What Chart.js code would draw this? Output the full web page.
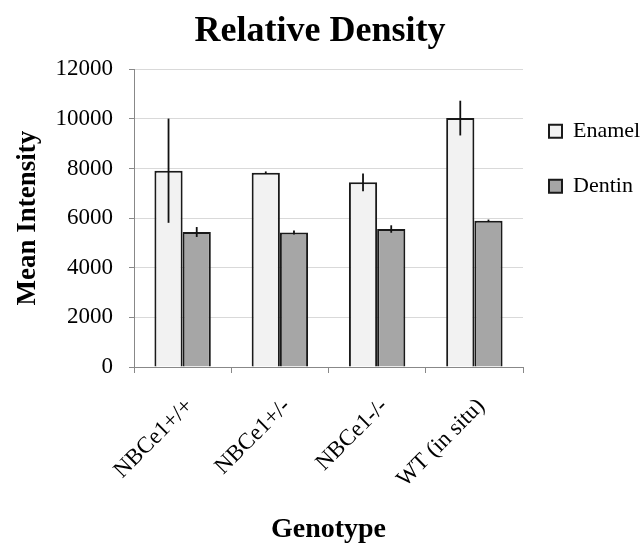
<!DOCTYPE html>
<html>
<head>
<meta charset="utf-8">
<script src="https://cdn.jsdelivr.net/npm/chart.js@4/dist/chart.umd.min.js"></script>
<style>
    html, body { margin: 0; padding: 0; background: #fff; }
</style>
</head>
<body>
<canvas id="densityChart" width="640" height="545"></canvas>
<script>
const genotypes = ['NBCe1+/+', 'NBCe1+/-', 'NBCe1-/-', 'WT (in situ)'];
const enamel = [7910, 7830, 7440, 10030];
const enamelErr = [2100, 50, 360, 700];
const dentin = [5440, 5420, 5560, 5890];
const dentinErr = [200, 80, 150, 50];
const yTicks = [0, 2000, 4000, 6000, 8000, 10000, 12000];

const serif = "'Liberation Serif', 'DejaVu Serif', serif";

// error bars, no caps
const errorBars = {
    id: 'errorBars',
    afterDatasetsDraw(chart) {
        const ctx = chart.ctx;
        const y = chart.scales.y;
        const errs = [enamelErr, dentinErr];
        ctx.save();
        ctx.strokeStyle = '#111';
        ctx.lineWidth = 1.8;
        chart.data.datasets.forEach(function(ds, i) {
            const meta = chart.getDatasetMeta(i);
            meta.data.forEach(function(bar, j) {
                const v = ds.data[j];
                ctx.beginPath();
                ctx.moveTo(bar.x, y.getPixelForValue(v + errs[i][j]));
                ctx.lineTo(bar.x, y.getPixelForValue(v - errs[i][j]));
                ctx.stroke();
            });
        });
        ctx.restore();
    }
};

// nudge legend a bit to the left (right edge kept so text is not clipped)
const legendNudge = {
    id: 'legendNudge',
    afterLayout(chart) {
        chart.legend.left -= 7;
    }
};

const data = {
    labels: genotypes,
    datasets: [{
        label: 'Enamel',
        data: enamel,
        backgroundColor: '#f2f2f2',
        borderColor: '#1a1a1a',
        borderWidth: 2,
        categoryPercentage: 0.58,
        barPercentage: 1.0
    }, {
        label: 'Dentin',
        data: dentin,
        backgroundColor: '#a6a6a6',
        borderColor: '#1a1a1a',
        borderWidth: 2,
        categoryPercentage: 0.58,
        barPercentage: 1.0
    }]
};

const config = {
    type: 'bar',
    data: data,
    plugins: [errorBars, legendNudge],
    options: {
        responsive: false,
        animation: false,
        layout: { padding: 0 },
        plugins: {
            title: {
                display: true,
                text: 'Relative Density',
                color: '#000',
                font: { family: serif, size: 36, weight: 'bold' },
                padding: { top: 10, bottom: 16 }
            },
            legend: {
                position: 'right',
                align: 'start',
                fullSize: false,
                maxWidth: 117,
                title: {
                    display: true,
                    text: '',
                    font: { size: 10 },
                    padding: { top: 0, bottom: 6 }
                },
                labels: {
                    color: '#000',
                    font: { family: serif, size: 22 },
                    boxWidth: 13,
                    boxHeight: 13,
                    padding: 33
                }
            },
            tooltip: { enabled: false }
        },
        scales: {
            x: {
                grid: {
                    offset: true,
                    drawOnChartArea: false,
                    color: '#888',
                    tickLength: 6
                },
                border: { color: '#888', width: 1 },
                ticks: {
                    color: '#000',
                    font: { family: serif, size: 23 },
                    minRotation: 45,
                    maxRotation: 45,
                    padding: 20,
                    labelOffset: 7
                },
                title: {
                    display: true,
                    text: 'Genotype',
                    color: '#000',
                    font: { family: serif, size: 28, weight: 'bold' },
                    padding: { top: 0, bottom: -2 }
                },
                afterFit(scale) { scale.height = 178; }
            },
            y: {
                min: 0,
                max: 12000,
                afterBuildTicks(scale) {
                    scale.ticks = yTicks.map(v => ({ value: v }));
                },
                grid: {
                    color: '#d9d9d9',
                    tickColor: '#888',
                    tickLength: 5
                },
                border: { color: '#888', width: 1 },
                ticks: {
                    color: '#000',
                    font: { family: serif, size: 23 },
                    padding: 16,
                    callback: function(value) { return String(value); }
                },
                title: {
                    display: true,
                    text: 'Mean Intensity',
                    color: '#000',
                    font: { family: serif, size: 27, weight: 'bold' },
                    padding: { top: 12, bottom: 0 }
                },
                afterFit(scale) { scale.width = 134; }
            }
        }
    }
};

const densityChart = new Chart(document.getElementById('densityChart'), config);
</script>
</body>
</html>
